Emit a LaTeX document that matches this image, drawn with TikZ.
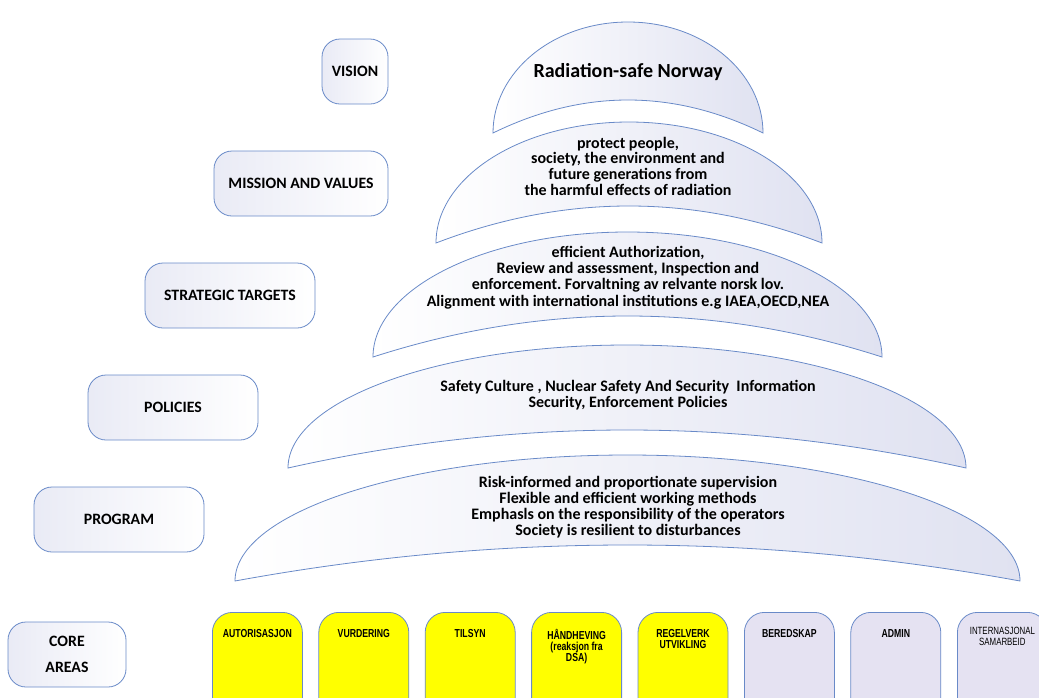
\documentclass[tikz,border=0pt]{standalone}
\usepackage{fontspec}
\setmainfont{Carlito}
\newfontfamily\narrowfont[FakeStretch=0.75]{Liberation Sans}
\usepackage{xcolor}
\usetikzlibrary{positioning}
\frenchspacing

\definecolor{rimblue}{RGB}{105,138,200}
\definecolor{lav}{RGB}{224,226,241}
\definecolor{corepurple}{RGB}{229,226,242}
\definecolor{coreyellow}{RGB}{255,255,0}

\begin{document}
\begin{tikzpicture}[x=1pt, y=-1pt,
    level/.style={draw=rimblue, line width=0.8pt, rounded corners=18pt,
        left color=lav!70, right color=white, minimum height=65pt,
        inner xsep=2pt, align=center, font=\bfseries\fontsize{15.8}{15.8}\selectfont},
    dome/.style={draw=rimblue, line width=0.8pt, left color=white, right color=lav},
    domelabel/.style={align=center, font=\bfseries\fontsize{16}{15.7}\selectfont},
    area/.style={draw=rimblue, line width=0.8pt, rounded corners=20pt,
        minimum width=90pt, minimum height=110pt, inner sep=0pt, anchor=north west},
    arealabel/.style={anchor=north, align=center, inner sep=0pt,
        font=\narrowfont\bfseries\fontsize{11.6}{11}\selectfont}
]
    \useasboundingbox (0,0) rectangle (1039,697);
    \clip (0,0) rectangle (1039,697);

    % Livelli a sinistra
    \node[level, minimum width=66pt]  (vision)   at (355,71.5)  {VISION};
    \node[level, minimum width=174pt] (mission)  at (301,183.5) {MISSION AND VALUES};
    \node[level, minimum width=170pt] (targets)  at (230,295.5) {STRATEGIC TARGETS};
    \node[level, minimum width=170pt] (policies) at (173,407.5) {POLICIES};
    \node[level, minimum width=170pt] (program)  at (119,519.5) {PROGRAM};
    \node[level, minimum width=118pt] (core)     at (67,654.5)  {CORE\\[10pt]AREAS};

    % Cupole (dal basso verso l'alto)
    \foreach \xl/\xr/\yt/\yb/\yp in {235/1020/455/581/545, 288/966/345/468/430,
                                     373/882/232/357/316, 436/822/122/243/206,
                                     493/763/22/133/100} {
        \path[dome] (\xl,\yb)
            arc[start angle=180, end angle=360, x radius={(\xr-\xl)/2}, y radius={\yb-\yt}]
            .. controls ({\xr-(\xr-\xl)/3},{\yb-4*(\yb-\yp)/3})
               and ({\xl+(\xr-\xl)/3},{\yb-4*(\yb-\yp)/3}) .. (\xl,\yb) -- cycle;
    }

    % Testi delle cupole
    \node[domelabel, font=\bfseries\fontsize{20}{22}\selectfont] (norway) at (628,72)
        {Radiation-safe Norway};
    \node[domelabel] (protect) at (628,166)
        {protect people,\\ society, the environment and\\ future generations from\\
         the harmful effects of radiation};
    \node[domelabel, font=\bfseries\fontsize{16}{16.3}\selectfont] (authorization) at (628,277.5)
        {efficient Authorization,\\ Review and assessment, Inspection and\\
         enforcement. Forvaltning av relvante norsk lov.\\
         Alignment with international institutions e.g IAEA,OECD,NEA};
    \node[domelabel] (culture) at (628,395)
        {Safety Culture , Nuclear Safety And Security~ Information\\
         Security, Enforcement Policies};
    \node[domelabel, font=\bfseries\fontsize{16}{16}\selectfont] (supervision) at (628,507)
        {Risk-informed and proportionate supervision\\ Flexible and efficient working methods\\
         Emphasls on the responsibility of the operators\\ Society is resilient to disturbances};

    % Kjerneområder
    \foreach \i/\name/\txt/\col in {0/autor/AUTORISASJON/coreyellow, 1/vurd/VURDERING/coreyellow,
            2/tilsyn/TILSYN/coreyellow, 3/haand/{HÅNDHEVING\\(reaksjon fra\\DSA)}/coreyellow,
            4/regel/{REGELVERK\\UTVIKLING}/coreyellow, 5/bered/BEREDSKAP/corepurple,
            6/admin/ADMIN/corepurple} {
        \node[area, fill=\col] (\name) at ({212+106.4*\i},612) {};
        \node[arealabel] (\name-txt) at ([yshift=-17pt]\name.north) {\txt};
    }
    \node[area, fill=corepurple] (intl) at (957,612) {};
    \node[arealabel, font=\narrowfont\fontsize{10.5}{11}\selectfont] (intl-txt)
        at ([yshift=-15pt]intl.north) {INTERNASJONAL\\SAMARBEID};
\end{tikzpicture}
\end{document}
